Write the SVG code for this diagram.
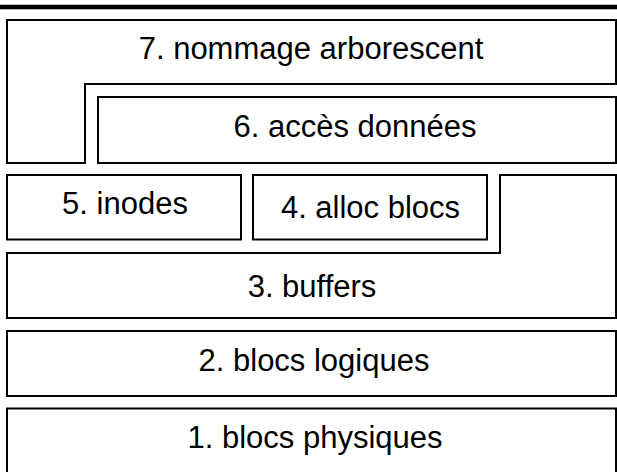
<svg xmlns="http://www.w3.org/2000/svg" width="617" height="472" viewBox="0 0 617 472">
  <style>
    .box { fill: #ffffff; stroke: #000000; stroke-width: 2; stroke-linejoin: miter; }
    .lbl { font-family: "Liberation Sans", Arial, sans-serif; font-size: 31px; fill: #000000; text-anchor: middle; }
  </style>
  <rect width="617" height="472" fill="#ffffff"/>
  <!-- heavy rule along the top -->
  <line x1="0" y1="7" x2="617" y2="7" stroke="#000000" stroke-width="4.5"/>

  <g id="layer7">
    <path class="box" d="M7,20 H616 V84 H85 V163 H7 Z"/>
    <text class="lbl" x="311" y="59">7. nommage arborescent</text>
  </g>
  <g id="layer6">
    <rect class="box" x="98" y="97" width="518" height="66"/>
    <text class="lbl" x="355" y="137">6. accès données</text>
  </g>
  <g id="layer5">
    <rect class="box" x="7" y="175" width="234" height="64.5"/>
    <text class="lbl" x="125" y="214">5. inodes</text>
  </g>
  <g id="layer4">
    <rect class="box" x="253" y="175" width="234" height="64.5"/>
    <text class="lbl" x="370.5" y="218">4. alloc blocs</text>
  </g>
  <g id="layer3">
    <path class="box" d="M7,253 H500 V175 H616 V318 H7 Z"/>
    <text class="lbl" x="312" y="297">3. buffers</text>
  </g>
  <g id="layer2">
    <rect class="box" x="7" y="331" width="609" height="65"/>
    <text class="lbl" x="314" y="371">2. blocs logiques</text>
  </g>
  <g id="layer1">
    <rect class="box" x="7" y="408.5" width="609" height="70"/>
    <text class="lbl" x="315" y="448">1. blocs physiques</text>
  </g>
  <g id="connectors"/>
</svg>
